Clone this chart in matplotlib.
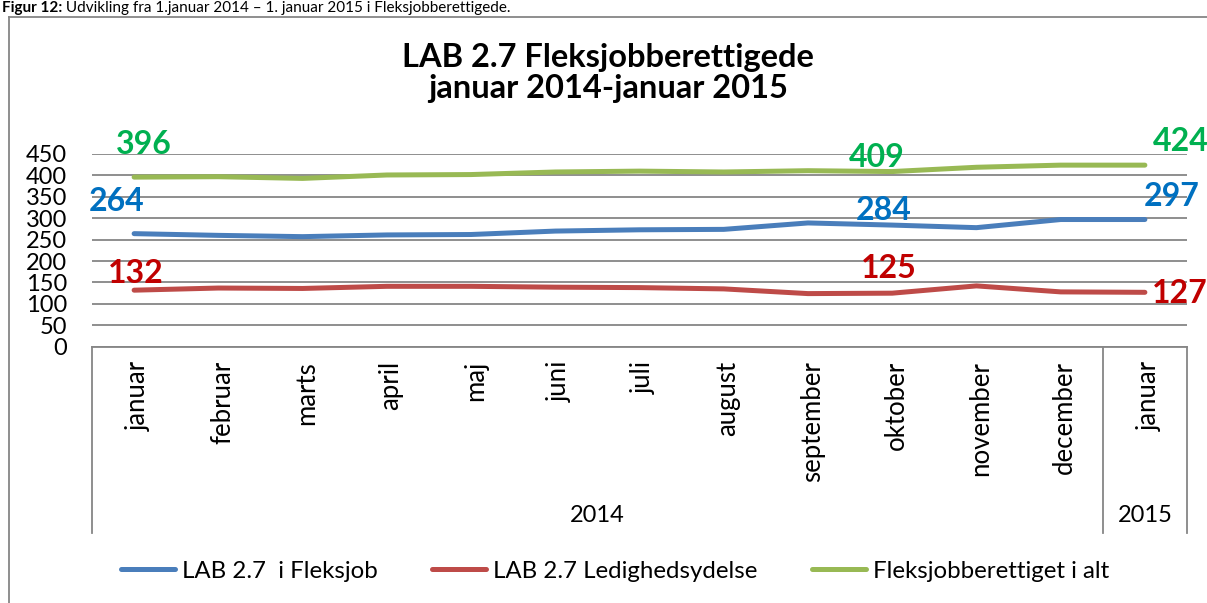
import matplotlib
matplotlib.use("Agg")
import matplotlib.pyplot as plt
from matplotlib.lines import Line2D
import matplotlib.transforms as mtransforms

plt.rcParams['font.family'] = ['Lato', 'DejaVu Sans']

# ---- data ----
months = ['januar', 'februar', 'marts', 'april', 'maj', 'juni', 'juli',
          'august', 'september', 'oktober', 'november', 'december', 'januar']
years = ['2014', '2015']
year_span = [(0, 11), (12, 12)]
fleksjob = [264, 260, 257, 261, 262, 270, 273, 274, 289, 284, 278, 297, 297]
ledighed = [132, 137, 136, 141, 141, 139, 138, 135, 124, 125, 142, 128, 127]
ialt = [396, 397, 393, 401, 402, 408, 410, 408, 411, 409, 419, 424, 424]
series_names = ['LAB 2.7  i Fleksjob', 'LAB 2.7 Ledighedsydelse', 'Fleksjobberettiget i alt']
line_colors = ['#4A7EBB', '#BE4B48', '#98B954']
label_colors = ['#0070C0', '#C00000', '#00B050']
labeled_idx = [0, 9, 12]
title = 'LAB 2.7 Fleksjobberettigede\njanuar 2014-januar 2015'
caption_bold = 'Figur 12:'
caption_rest = ' Udvikling fra 1.januar 2014 \u2013 1. januar 2015 i Fleksjobberettigede.'

W, H = 1207, 603
fig = plt.figure(figsize=(W / 100, H / 100), dpi=100)

def fx(px):
    return px / W

def fy(py):
    return 1 - py / H

ax_left, ax_right, ax_top, ax_bot = 92, 1187, 154, 346.7
ax = fig.add_axes([fx(ax_left), fy(ax_bot), fx(ax_right - ax_left), (ax_bot - ax_top) / H])

grid_c = '#868686'
x = list(range(len(months)))
series = [fleksjob, ledighed, ialt]
for vals, col, name in zip(series, line_colors, series_names):
    ax.plot(x, vals, color=col, lw=3.6, solid_capstyle='round', solid_joinstyle='round',
            label=name, zorder=3)

ax.set_xlim(-0.5, len(months) - 0.5)
ax.set_ylim(0, 450)
ax.set_yticks(range(0, 451, 50))
ax.yaxis.grid(True, color=grid_c, lw=1.3)
ax.set_axisbelow(True)
for s in ['top', 'right', 'left']:
    ax.spines[s].set_visible(False)
ax.spines['bottom'].set_color(grid_c)
ax.spines['bottom'].set_linewidth(1.3)
ax.tick_params(axis='y', length=0, pad=18, labelsize=17)
ax.tick_params(axis='x', length=0)
ax.set_xticks([])

# category axis box
trans = mtransforms.blended_transform_factory(ax.transData, ax.transAxes)
box_bottom = (ax_bot - 533) / (ax_bot - ax_top)
for xv in [-0.5, 11.5, 12.5]:
    ax.add_line(Line2D([xv, xv], [0, box_bottom], transform=trans, color=grid_c,
                       lw=1.3, clip_on=False))
month_top = (ax_bot - 361) / (ax_bot - ax_top)
for i, m in enumerate(months):
    ax.text(i + 0.05, month_top, m, transform=trans, rotation=90, ha='center', va='top',
            fontsize=18.5, clip_on=False)
year_y = (ax_bot - 516) / (ax_bot - ax_top)
for yr, (a, b) in zip(years, year_span):
    ax.text((a + b) / 2, year_y, yr, transform=trans, ha='center', va='center',
            fontsize=17, clip_on=False)

# data labels (offsets in pixels)
offsets = {
    0: [(-17, 32), (2, 17), (10, 33)],
    9: [(-9, 15), (-3, 25), (-15, 14)],
    12: [(27, 23), (35, -1), (36, 24)],
}
for i in labeled_idx:
    for k, (vals, col) in enumerate(zip(series, label_colors)):
        dx, dy = offsets[i][k]
        ax.annotate(str(vals[i]), (i, vals[i]), xytext=(dx, dy), textcoords='offset pixels',
                    ha='center', va='center', color=col, fontsize=23, fontweight='bold',
                    annotation_clip=False, zorder=4)

# title
fig.text(fx(608), fy(73), title, ha='center', va='center', fontsize=23.5,
         fontweight='bold', linespacing=1.1)

# legend
ax.legend(loc='center', bbox_to_anchor=(fx(615), fy(571)), bbox_transform=fig.transFigure,
          ncol=3, frameon=False, fontsize=17.3, handlelength=2.25, handletextpad=0.3,
          columnspacing=2.25, borderpad=0, borderaxespad=0)

# outer frame
frame_top = 17
fig.add_artist(Line2D([fx(9), fx(9)], [fy(frame_top), 0], transform=fig.transFigure, color=grid_c, lw=1.3))
fig.add_artist(Line2D([fx(9), 1], [fy(frame_top), fy(frame_top)], transform=fig.transFigure, color=grid_c, lw=1.3))

# caption at the top
t1 = fig.text(fx(2), fy(12), caption_bold, ha='left', va='baseline', fontsize=11, fontweight='bold')
fig.canvas.draw()
bb = t1.get_window_extent(renderer=fig.canvas.get_renderer())
fig.text(bb.x1 / W, fy(12), caption_rest, ha='left', va='baseline', fontsize=11)

fig.savefig('out.png', dpi=100)
